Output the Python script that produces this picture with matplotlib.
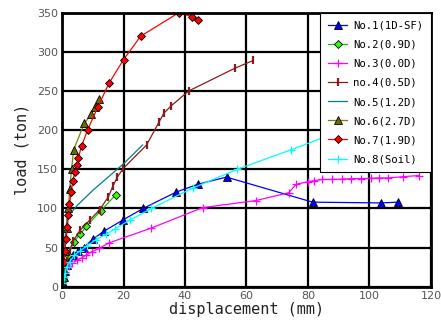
import matplotlib
matplotlib.use("Agg")
import matplotlib.pyplot as plt

# displacement (mm) / load (ton)
no1_x = [0, 0.3, 0.6, 1.0, 1.5, 2.2, 3.6, 5.2, 7.0, 10.1, 13.7, 19.7, 26.4, 37.2, 44.3, 53.5, 81.5, 103.9, 109.3]
no1_y = [0, 5, 12, 20, 28, 36, 41, 46, 50, 61, 71, 85, 100, 121, 131, 140, 108, 107, 108]

no2_x = [0, 0.3, 0.7, 1.2, 2.0, 3.8, 5.9, 7.9, 12.6, 17.4]
no2_y = [0, 8, 18, 30, 40, 57, 67, 77, 97, 117]

no3_x = [0, 0.4, 1.1, 2.3, 3.3, 5.0, 6.5, 7.9, 9.7, 12.1, 15.3, 29.1, 45.7, 63.0, 73.7, 76.2, 80.0,
         82.1, 84.7, 87.7, 91.2, 94.1, 97.2, 100.5, 103.0, 106.0, 110.8, 116.0]
no3_y = [0, 12, 19, 26, 30, 34, 37, 40.5, 44.7, 49, 56, 75, 101, 110, 120, 131, 134,
         135.5, 137, 137, 137.5, 138, 138, 138.5, 139, 139, 140.5, 142]

no4_x = [0, 0.4, 0.9, 1.5, 2.5, 3.5, 5.9, 9.0, 12.2, 15.1, 16.5, 18.0, 19.9, 27.5, 31.5, 33.2, 35.5, 41.2, 56.2, 62.2]
no4_y = [0, 10, 20, 32, 45, 58, 72, 85, 98, 115, 128, 140, 151, 181, 210, 222, 231, 250, 279, 289]

no5_x = [0, 0.4, 0.9, 1.7, 5.0, 10.0, 15.0, 20.0, 26.2]
no5_y = [0, 30, 60, 89, 104, 123, 140, 157, 181]

no6_x = [0, 0.1, 0.4, 0.9, 1.7, 2.1, 2.5, 3.1, 3.8, 7.3, 9.5, 10.8, 12.0]
no6_y = [0, 10, 23, 45, 75, 100, 125, 150, 175, 209, 220, 230, 240]

no7_x = [0, 0.2, 0.5, 0.9, 1.3, 1.7, 2.0, 2.4, 3.0, 3.5, 4.2, 4.8, 5.3, 6.4, 8.3, 11.7, 15.3, 20.0, 25.6, 38.0, 42.2, 44.3]
no7_y = [0, 15, 31, 46, 61, 76, 91, 106, 121, 135, 146, 156, 165, 180, 200, 230, 260, 290, 320, 350, 345, 341]

no8_x = [0, 0.3, 0.6, 1.0, 1.5, 2.5, 4.0, 6.0, 8.0, 11.0, 14.4, 17.3, 22.0, 29.1, 42.5, 57.0, 74.6, 90.0]
no8_y = [0, 5, 12, 18, 25, 32, 40, 46, 52, 60, 67, 74, 85, 100, 126, 150, 175, 198]

mono = "DejaVu Sans Mono"

fig = plt.figure(figsize=(4.41, 3.25), dpi=100)
ax = fig.add_axes([0.1406, 0.1178, 0.8367, 0.8432])

ax.plot(no1_x, no1_y, color="blue", lw=0.9, marker="^", ms=5.5, mfc="blue", mec="black", mew=0.6, label="No.1(1D-SF)")
ax.plot(no2_x, no2_y, color="#00cc00", lw=0.9, marker="D", ms=4.5, mfc="#33ff00", mec="black", mew=0.6, label="No.2(0.9D)")
ax.plot(no3_x, no3_y, color="magenta", lw=0.9, marker="+", ms=6, mew=0.9, label="No.3(0.0D)")
ax.plot(no4_x, no4_y, color="#8b1a1a", lw=0.9, marker="|", ms=6, mew=1.6, label="no.4(0.5D)")
ax.plot(no5_x, no5_y, color="#008080", lw=0.9, label="No.5(1.2D)")
ax.plot(no6_x, no6_y, color="#808000", lw=0.9, marker="^", ms=5.5, mfc="#6b6b00", mec="black", mew=0.6, label="No.6(2.7D)")
ax.plot(no7_x, no7_y, color="red", lw=0.9, marker="D", ms=4.5, mfc="red", mec="black", mew=0.6, label="No.7(1.9D)")
ax.plot(no8_x, no8_y, color="cyan", lw=0.9, marker="+", ms=6, mew=0.9, label="No.8(Soil)")

ax.set_xlim(0, 120)
ax.set_ylim(0, 350)
ax.set_xticks(range(0, 121, 20))
ax.set_yticks(range(0, 351, 50))
ax.grid(True, color="black", lw=1.6)
ax.set_axisbelow(True)
for s in ax.spines.values():
    s.set_linewidth(2)
ax.tick_params(length=0, labelsize=8, labelcolor="#555555", pad=3)

ax.set_xlabel("displacement (mm)", fontsize=11, family=mono, color="#222222", labelpad=1)
ax.set_ylabel("load (ton)", fontsize=11, family=mono, color="#222222", labelpad=5)

leg = ax.legend(loc="upper right", bbox_to_anchor=(1.0, 1.0), borderaxespad=0, fancybox=False,
                framealpha=1, edgecolor="black", prop={"family": mono, "size": 7.7},
                handlelength=1.8, labelspacing=0.85, borderpad=0.75, handletextpad=0.5)
leg.get_frame().set_linewidth(0.8)

fig.savefig("out.png", dpi=100)
